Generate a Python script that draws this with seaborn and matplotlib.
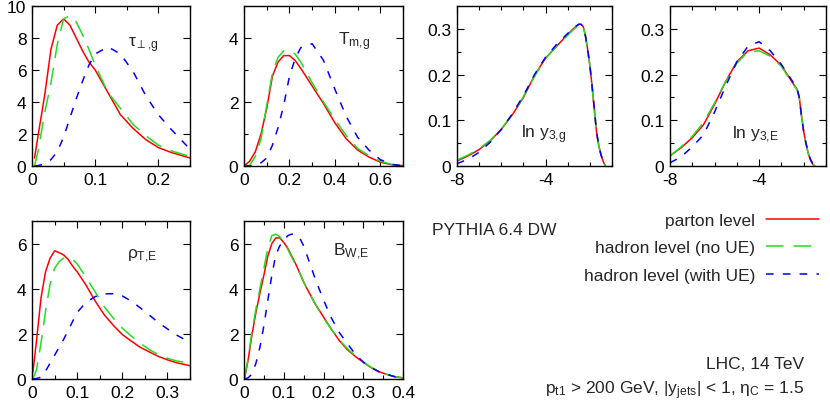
import numpy as np
import pandas as pd
import matplotlib
matplotlib.use("Agg")
import matplotlib.pyplot as plt
from matplotlib.ticker import MultipleLocator, FuncFormatter
import seaborn as sns

# ---- data (parton / hadron no UE / hadron with UE) ----
levels = ["parton level", "hadron level (no UE)", "hadron level (with UE)"]

tau_x = [0.004, 0.01, 0.02, 0.03, 0.04, 0.05, 0.06, 0.07, 0.08, 0.09, 0.10,
         0.12, 0.14, 0.16, 0.18, 0.20, 0.22, 0.25]
tau_parton = [0.5, 2.0, 4.4, 7.3, 8.8, 9.2, 8.8, 8.0, 7.2, 6.5, 6.0,
              4.6, 3.2, 2.35, 1.65, 1.15, 0.85, 0.5]
tau_had = [0.0, 1.0, 3.3, 5.2, 7.6, 9.2, 9.4, 9.0, 8.2, 7.3, 6.3,
           4.6, 3.6, 2.6, 1.9, 1.3, 0.95, 0.6]
tau_ue = [0.0, 0.03, 0.12, 0.4, 0.9, 1.8, 3.0, 4.2, 5.3, 6.3, 7.0,
          7.45, 7.0, 5.9, 4.4, 3.2, 2.3, 1.05]

tm_x = [0.0, 0.025, 0.05, 0.075, 0.1, 0.125, 0.15, 0.175, 0.2, 0.225, 0.25,
        0.3, 0.35, 0.4, 0.45, 0.5, 0.55, 0.6, 0.65, 0.7]
tm_parton = [0.0, 0.15, 0.45, 1.0, 1.8, 2.8, 3.25, 3.45, 3.45, 3.3, 3.05,
             2.5, 1.95, 1.35, 0.85, 0.5, 0.28, 0.12, 0.04, 0.01]
tm_had = [0.0, 0.02, 0.3, 0.85, 1.9, 2.9, 3.4, 3.6, 3.6, 3.5, 3.25,
          2.6, 2.0, 1.45, 0.95, 0.55, 0.32, 0.15, 0.05, 0.01]
tm_ue = [0.0, 0.0, 0.02, 0.1, 0.25, 0.65, 1.2, 1.9, 2.8, 3.35, 3.7,
         3.82, 3.3, 2.4, 1.55, 0.9, 0.5, 0.2, 0.05, 0.01]

y3g_x = [-8, -7.5, -7, -6.5, -6, -5.5, -5, -4.5, -4, -3.5, -3, -2.75, -2.5,
         -2.4, -2.3, -2.2, -2.1, -2.0, -1.9, -1.8, -1.7, -1.6, -1.5, -1.4, -1.3]
y3g_parton = [0.011, 0.022, 0.036, 0.055, 0.08, 0.112, 0.15, 0.198, 0.236, 0.262,
              0.288, 0.300, 0.310, 0.310, 0.305, 0.285, 0.255, 0.22, 0.175, 0.125,
              0.075, 0.045, 0.025, 0.01, 0.0]
y3g_had = [0.013, 0.024, 0.038, 0.056, 0.081, 0.113, 0.152, 0.196, 0.235, 0.262,
           0.286, 0.298, 0.308, 0.310, 0.305, 0.285, 0.255, 0.22, 0.175, 0.125,
           0.075, 0.045, 0.025, 0.01, 0.0]
y3g_ue = [0.005, 0.015, 0.03, 0.052, 0.08, 0.114, 0.154, 0.2, 0.238, 0.266,
          0.290, 0.302, 0.310, 0.310, 0.305, 0.285, 0.255, 0.22, 0.175, 0.125,
          0.075, 0.045, 0.025, 0.01, 0.0]

y3e_x = [-8, -7.5, -7, -6.5, -6, -5.5, -5, -4.5, -4, -3.5, -3, -2.5, -2.3,
         -2.2, -2.1, -2.0, -1.9, -1.8, -1.7, -1.6, -1.5]
y3e_parton = [0.022, 0.04, 0.062, 0.09, 0.135, 0.185, 0.228, 0.252, 0.258, 0.243,
              0.22, 0.182, 0.168, 0.15, 0.11, 0.075, 0.05, 0.028, 0.013, 0.004, 0.0]
y3e_had = [0.022, 0.042, 0.065, 0.095, 0.138, 0.185, 0.225, 0.25, 0.252, 0.24,
           0.218, 0.18, 0.167, 0.15, 0.11, 0.075, 0.05, 0.028, 0.013, 0.004, 0.0]
y3e_ue = [0.007, 0.02, 0.042, 0.068, 0.118, 0.175, 0.228, 0.262, 0.272, 0.252,
          0.222, 0.185, 0.17, 0.15, 0.11, 0.075, 0.05, 0.03, 0.015, 0.006, 0.001]

rho_x = [0.002, 0.01, 0.02, 0.03, 0.04, 0.05, 0.06, 0.07, 0.08, 0.09, 0.10,
         0.12, 0.14, 0.16, 0.18, 0.20, 0.22, 0.24, 0.26, 0.28, 0.30, 0.32, 0.35]
rho_parton = [0.3, 1.7, 3.6, 4.75, 5.35, 5.68, 5.6, 5.5, 5.3, 5.0, 4.75,
              4.15, 3.45, 2.85, 2.38, 1.97, 1.68, 1.4, 1.2, 1.0, 0.85, 0.72, 0.59]
rho_had = [0.0, 0.4, 1.6, 3.0, 4.2, 4.9, 5.2, 5.35, 5.4, 5.3, 5.1,
           4.5, 3.85, 3.2, 2.7, 2.25, 1.9, 1.58, 1.3, 1.08, 0.92, 0.8, 0.7]
rho_ue = [0.0, 0.02, 0.08, 0.35, 0.7, 1.05, 1.4, 1.75, 2.15, 2.55, 2.95,
          3.4, 3.65, 3.77, 3.78, 3.68, 3.45, 3.15, 2.83, 2.5, 2.22, 1.95, 1.62]

bw_x = [0.002, 0.01, 0.02, 0.03, 0.04, 0.05, 0.06, 0.07, 0.08, 0.09, 0.10, 0.11,
        0.12, 0.13, 0.14, 0.15, 0.16, 0.18, 0.20, 0.22, 0.24, 0.26, 0.28, 0.30,
        0.32, 0.34, 0.36, 0.38, 0.40]
bw_parton = [0.07, 0.8, 1.95, 2.95, 3.8, 4.6, 5.45, 6.0, 6.25, 6.25, 6.05, 5.8,
             5.45, 5.1, 4.7, 4.3, 3.95, 3.3, 2.75, 2.2, 1.7, 1.3, 1.0, 0.74,
             0.5, 0.32, 0.2, 0.1, 0.05]
bw_had = [0.1, 0.9, 2.1, 3.1, 4.0, 4.9, 5.8, 6.35, 6.42, 6.3, 6.05, 5.75,
          5.4, 5.05, 4.7, 4.3, 3.95, 3.3, 2.7, 2.2, 1.72, 1.35, 1.02, 0.75,
          0.52, 0.34, 0.2, 0.1, 0.05]
bw_ue = [0.0, 0.05, 0.22, 0.7, 1.4, 2.36, 3.5, 4.6, 5.5, 5.9, 6.15, 6.35,
         6.42, 6.4, 6.25, 5.9, 5.4, 4.4, 3.5, 2.7, 2.05, 1.57, 1.1, 0.75,
         0.5, 0.32, 0.2, 0.1, 0.04]

# ---- style ----
sns.set_theme(style="ticks")
FS = 12.5
plt.rcParams["font.family"] = ["Liberation Sans", "DejaVu Sans"]
plt.rcParams["font.size"] = FS
plt.rcParams["axes.unicode_minus"] = False
plt.rcParams["mathtext.fontset"] = "custom"
plt.rcParams["mathtext.rm"] = "Liberation Sans"
plt.rcParams["mathtext.it"] = "Liberation Sans"
plt.rcParams["mathtext.sf"] = "Liberation Sans"
plt.rcParams["mathtext.fallback"] = "stixsans"

palette = {levels[0]: "#ff0000", levels[1]: "#22dd22", levels[2]: "#0000ff"}
dashes = {levels[0]: "", levels[1]: (11.5, 6.5), levels[2]: (5, 6)}

fig = plt.figure(figsize=(8.3, 4.06), dpi=100)
W, H = 830, 406


def box(x0, x1, y0, y1):
    return [x0 / W, 1 - y1 / H, (x1 - x0) / W, (y1 - y0) / H]


panels = [
    dict(pos=box(32, 190, 7, 167), x=tau_x, ys=[tau_parton, tau_had, tau_ue],
         xlim=(0, 0.25), xt=(0.1, 0.05), ylim=(0, 10), yt=(2, None),
         label=r"$\tau_{\perp{,}g}$", lxy=(0.61, 0.76)),
    dict(pos=box(244, 403, 7, 167), x=tm_x, ys=[tm_parton, tm_had, tm_ue],
         xlim=(0, 0.7), xt=(0.2, 0.1), ylim=(0, 5), yt=(2, 1),
         label=r"T$_{m{,}g}$", lxy=(0.59, 0.78)),
    dict(pos=box(457, 612, 7, 167), x=y3g_x, ys=[y3g_parton, y3g_had, y3g_ue],
         xlim=(-8, -1), xt=(4, 1), ylim=(0, 0.35), yt=(0.1, 0.05),
         label=r"ln y$_{3{,}g}$", lxy=(0.41, 0.2)),
    dict(pos=box(670, 826, 7, 167), x=y3e_x, ys=[y3e_parton, y3e_had, y3e_ue],
         xlim=(-8, -1), xt=(4, 1), ylim=(0, 0.35), yt=(0.1, 0.05),
         label=r"ln y$_{3{,}E}$", lxy=(0.40, 0.2)),
    dict(pos=box(32, 190, 222, 380), x=rho_x, ys=[rho_parton, rho_had, rho_ue],
         xlim=(0, 0.35), xt=(0.1, 0.05), ylim=(0, 7), yt=(2, None),
         label=r"$\rho_{T{,}E}$", lxy=(0.60, 0.78)),
    dict(pos=box(244, 403, 222, 380), x=bw_x, ys=[bw_parton, bw_had, bw_ue],
         xlim=(0, 0.4), xt=(0.1, 0.05), ylim=(0, 7), yt=(2, None),
         label=r"B$_{W{,}E}$", lxy=(0.56, 0.81)),
]

fmt = FuncFormatter(lambda v, p: f"{v:g}")
handles = None
for p in panels:
    ax = fig.add_axes(p["pos"])
    df = pd.concat([pd.DataFrame({"x": p["x"], "y": y, "level": lev})
                    for y, lev in zip(p["ys"], levels)], ignore_index=True)
    sns.lineplot(data=df, x="x", y="y", hue="level", style="level",
                 hue_order=levels, style_order=levels, palette=palette,
                 dashes=dashes, linewidth=1.1, legend=False, ax=ax)
    if handles is None:
        handles = ax.get_lines()[:3]
    ax.set_xlim(*p["xlim"])
    ax.set_ylim(*p["ylim"])
    ax.xaxis.set_major_locator(MultipleLocator(p["xt"][0]))
    if p["xt"][1]:
        ax.xaxis.set_minor_locator(MultipleLocator(p["xt"][1]))
    ax.yaxis.set_major_locator(MultipleLocator(p["yt"][0]))
    if p["yt"][1]:
        ax.yaxis.set_minor_locator(MultipleLocator(p["yt"][1]))
    ax.xaxis.set_major_formatter(fmt)
    ax.yaxis.set_major_formatter(fmt)
    ax.set_xlabel("")
    ax.set_ylabel("")
    ax.tick_params(which="both", direction="in", top=True, right=True,
                   labelsize=FS, width=0.8, colors="black")
    ax.tick_params(which="major", length=5, pad=4)
    ax.tick_params(which="minor", length=3)
    for s in ax.spines.values():
        s.set_linewidth(1.0)
        s.set_color("black")
    ax.text(p["lxy"][0], p["lxy"][1], p["label"], transform=ax.transAxes,
            fontsize=FS, va="center", ha="left")

fig.legend(handles, levels, loc="upper right", bbox_to_anchor=(819 / W, 1 - 214 / H),
           frameon=False, markerfirst=False, fontsize=FS, handlelength=3.05,
           handletextpad=0.63, labelspacing=0.7, borderpad=0, borderaxespad=0)

fig.text(432 / W, 1 - 231 / H, "PYTHIA 6.4 DW", fontsize=FS, va="center", ha="left")
fig.text(804 / W, 1 - 365 / H, "LHC, 14 TeV", fontsize=FS, va="center", ha="right")
fig.text(804 / W, 1 - 391 / H,
         r"p$_{t1}$ > 200 GeV, |y$_{jets}$| < 1, $\eta_{C}$ = 1.5",
         fontsize=FS, va="center", ha="right")

fig.savefig("out.png", dpi=100, facecolor="white")
